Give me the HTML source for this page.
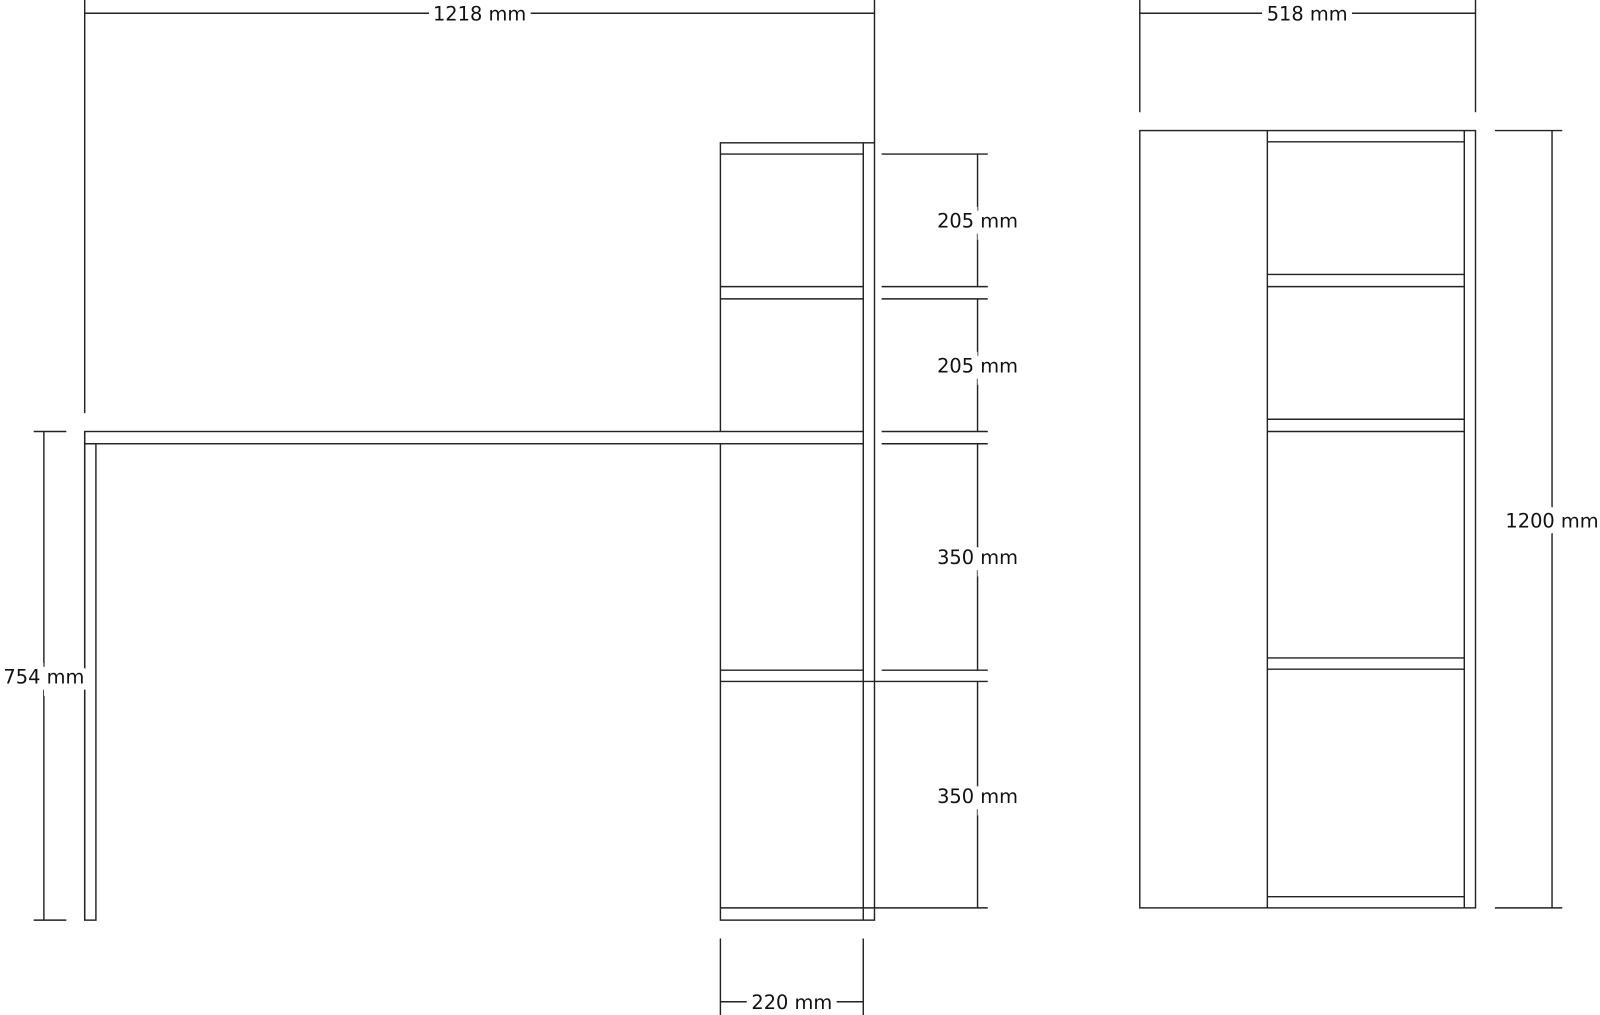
<!DOCTYPE html>
<html><head><style>html,body{margin:0;padding:0;background:#fff;}svg{display:block}</style></head>
<body>
<svg width="1600" height="1015" viewBox="0 0 1568 995" preserveAspectRatio="none" xmlns="http://www.w3.org/2000/svg">
<g stroke="#222" stroke-width="1.4" fill="none">
<line x1="83" y1="0" x2="83" y2="405"/>
<line x1="857" y1="0" x2="857" y2="140"/>
<line x1="83" y1="13" x2="857" y2="13"/>
<rect x="706" y="140" width="151" height="762"/>
<line x1="846" y1="140" x2="846" y2="902"/>
<line x1="706" y1="151" x2="846" y2="151"/>
<line x1="706" y1="281" x2="846" y2="281"/>
<line x1="706" y1="293" x2="846" y2="293"/>
<line x1="706" y1="657" x2="846" y2="657"/>
<line x1="706" y1="668" x2="857" y2="668"/>
<line x1="706" y1="890" x2="857" y2="890"/>
<rect x="83" y="423" width="763" height="12" fill="#fff"/>
<rect x="83" y="435" width="11" height="467"/>
<line x1="83" y1="423" x2="83" y2="902"/>
<line x1="864" y1="151" x2="968" y2="151"/>
<line x1="864" y1="281" x2="968" y2="281"/>
<line x1="864" y1="293" x2="968" y2="293"/>
<line x1="864" y1="423" x2="968" y2="423"/>
<line x1="864" y1="435" x2="968" y2="435"/>
<line x1="864" y1="657" x2="968" y2="657"/>
<line x1="857" y1="668" x2="968" y2="668"/>
<line x1="857" y1="890" x2="968" y2="890"/>
<line x1="958" y1="151" x2="958" y2="281"/>
<line x1="958" y1="293" x2="958" y2="423"/>
<line x1="958" y1="435" x2="958" y2="657"/>
<line x1="958" y1="668" x2="958" y2="890"/>
<line x1="43" y1="423" x2="43" y2="902"/>
<line x1="33" y1="423" x2="65" y2="423"/>
<line x1="33" y1="902" x2="65" y2="902"/>
<line x1="706" y1="920" x2="706" y2="995"/>
<line x1="846" y1="920" x2="846" y2="995"/>
<line x1="706" y1="982" x2="846" y2="982"/>
<line x1="1117" y1="0" x2="1117" y2="110"/>
<line x1="1446" y1="0" x2="1446" y2="110"/>
<line x1="1117" y1="13" x2="1446" y2="13"/>
<rect x="1117" y="128" width="329" height="762"/>
<line x1="1242" y1="128" x2="1242" y2="890"/>
<line x1="1435" y1="128" x2="1435" y2="890"/>
<line x1="1242" y1="139" x2="1435" y2="139"/>
<line x1="1242" y1="269" x2="1435" y2="269"/>
<line x1="1242" y1="281" x2="1435" y2="281"/>
<line x1="1242" y1="411" x2="1435" y2="411"/>
<line x1="1242" y1="423" x2="1435" y2="423"/>
<line x1="1242" y1="645" x2="1435" y2="645"/>
<line x1="1242" y1="656" x2="1435" y2="656"/>
<line x1="1242" y1="879" x2="1435" y2="879"/>
<line x1="1465" y1="128" x2="1531" y2="128"/>
<line x1="1465" y1="890" x2="1531" y2="890"/>
<line x1="1521" y1="128" x2="1521" y2="890"/>
</g>
<g font-family="'DejaVu Sans', 'Liberation Sans', sans-serif" font-size="19" fill="#111" text-anchor="middle" stroke="#fff" stroke-width="12" paint-order="stroke">
<text x="470" y="20">1218 mm</text>
<text x="1281" y="20">518 mm</text>
<text x="958" y="223">205 mm</text>
<text x="958" y="365">205 mm</text>
<text x="958" y="553">350 mm</text>
<text x="958" y="787">350 mm</text>
<text x="43" y="670">754 mm</text>
<text x="776" y="989">220 mm</text>
<text x="1521" y="517">1200 mm</text>
</g>
</svg>
</body></html>
